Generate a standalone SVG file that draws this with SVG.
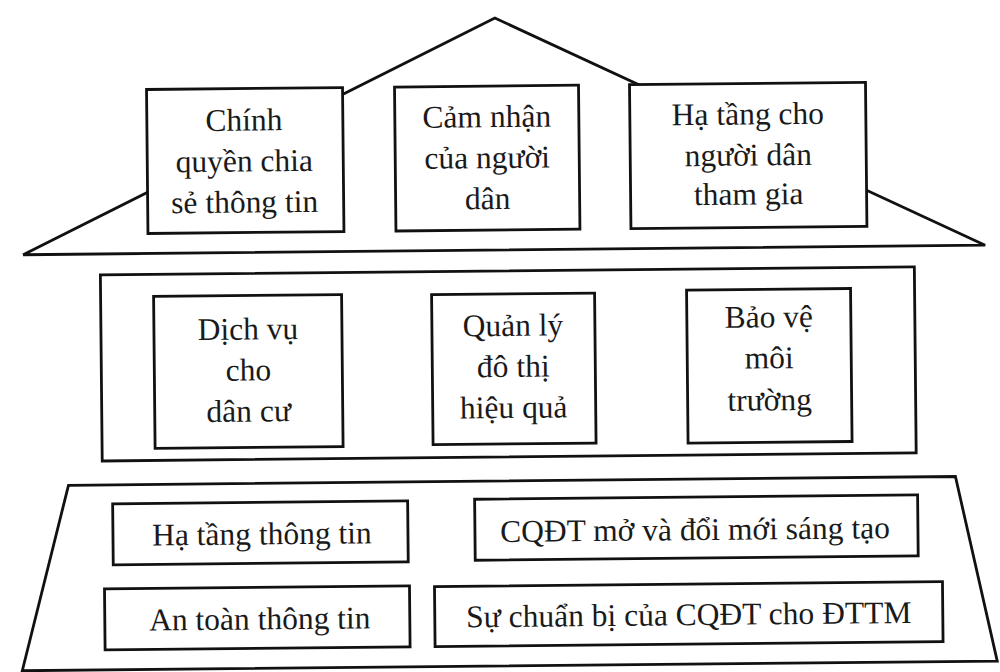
<svg xmlns="http://www.w3.org/2000/svg" width="1000" height="672" viewBox="0 0 1000 672">
<style>
.frame{fill:none;stroke:#111;stroke-width:2.8;stroke-linejoin:miter}
.box{fill:#fff;stroke:#111;stroke-width:2.8}
.t{font-family:"Liberation Serif","Times New Roman",serif;font-size:31.5px;fill:#1a1a1a;text-anchor:middle}
</style>
<rect width="1000" height="672" fill="#fff"/>
<g transform="rotate(-0.57 500 336)">
  <g id="frames">
    <polygon id="roof" class="frame" points="24,250 498,18 986,250"/>
    <rect id="middle-frame" class="frame" x="101" y="271" width="814" height="186"/>
    <polygon id="base-frame" class="frame" points="67,481 954,481 994,666 19,666"/>
  </g>
  <g id="n1"><rect class="box" x="149" y="86" width="196" height="144"/>
    <text class="t" x="246" y="128">Chính</text><text class="t" x="246" y="169">quyền chia</text><text class="t" x="246" y="210">sẻ thông tin</text></g>
  <g id="n2"><rect class="box" x="397" y="86" width="184" height="144"/>
    <text class="t" x="489" y="127">Cảm nhận</text><text class="t" x="489" y="168">của người</text><text class="t" x="489" y="209">dân</text></g>
  <g id="n3"><rect class="box" x="632" y="86" width="236" height="144"/>
    <text class="t" x="750" y="127">Hạ tầng cho</text><text class="t" x="750" y="168">người dân</text><text class="t" x="750" y="207">tham gia</text></g>
  <g id="n4"><rect class="box" x="154" y="293" width="188" height="152"/>
    <text class="t" x="248" y="337">Dịch vụ</text><text class="t" x="248" y="378">cho</text><text class="t" x="248" y="419">dân cư</text></g>
  <g id="n5"><rect class="box" x="432" y="294" width="163" height="150"/>
    <text class="t" x="513" y="336">Quản lý</text><text class="t" x="513" y="377">đô thị</text><text class="t" x="513" y="418">hiệu quả</text></g>
  <g id="n6"><rect class="box" x="687" y="292" width="164" height="153"/>
    <text class="t" x="769" y="330">Bảo vệ</text><text class="t" x="769" y="371">môi</text><text class="t" x="769" y="413">trường</text></g>
  <g id="n7"><rect class="box" x="111" y="500" width="295" height="61"/>
    <text class="t" x="260" y="542">Hạ tầng thông tin</text></g>
  <g id="n8"><rect class="box" x="473" y="499" width="443" height="61"/>
    <text class="t" x="693" y="542">CQĐT mở và đổi mới sáng tạo</text></g>
  <g id="n9"><rect class="box" x="102" y="585" width="305" height="61"/>
    <text class="t" x="257" y="627">An toàn thông tin</text></g>
  <g id="n10"><rect class="box" x="432" y="586" width="508" height="60"/>
    <text class="t" x="686" y="627">Sự chuẩn bị của CQĐT cho ĐTTM</text></g>
  <g id="connectors"></g>
</g>
</svg>
